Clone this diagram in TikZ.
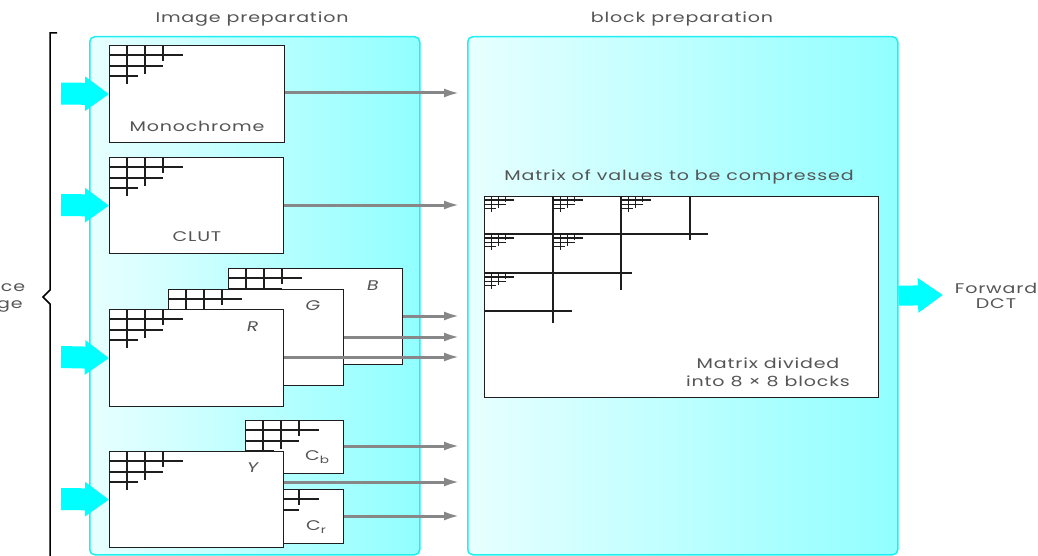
\documentclass[tikz,border=0pt]{standalone}
\usepackage{fontspec}
\setmainfont{Poppins}[FakeStretch=1.36,LetterSpace=6]
\newfontfamily\slfont{Poppins}[FakeStretch=1.36,LetterSpace=6,FakeSlant=0.2]
\usetikzlibrary{arrows.meta}
\definecolor{panelL}{RGB}{232,255,255}
\definecolor{panelR}{RGB}{145,255,255}
\definecolor{panelB}{RGB}{30,240,240}
\definecolor{inarrow}{RGB}{0,255,255}
\definecolor{txt}{RGB}{85,85,85}
\definecolor{outgray}{RGB}{135,135,135}
\definecolor{boxline}{RGB}{30,30,30}
\tikzset{
  panel/.style={draw=panelB, line width=1.5pt, rounded corners=5pt,
    left color=panelL, right color=panelR, anchor=north west, inner sep=0pt},
  imgbox/.style={draw=boxline, line width=1.2pt, fill=white, anchor=north west, inner sep=0pt},
  gline/.style={draw=boxline, line width=1.1pt},
  mline/.style={draw=boxline, line width=1.8pt},
  lbl/.style={text=txt, font=\fontsize{14}{17}\selectfont, inner sep=0pt},
  outarr/.style={draw=outgray, line width=3pt, -{Latex[length=16pt,width=9pt]}},
  inarr/.style={draw=inarrow, line width=22pt, -{Triangle[length=24pt,width=33pt]}},
  pics/cgrid/.style={code={
    \draw[gline] (18,0)--(18,39) (36,0)--(36,29) (54,0)--(54,16)
                 (0,10)--(74,10) (0,21)--(54,21) (0,31)--(29,31);
  }},
}
\begin{document}
\begin{tikzpicture}[x=1pt,y=-1pt]
\clip (0,0) rectangle (1038,556);
\fill[white] (0,0) rectangle (1038,556);

% panels
\node[panel, minimum width=330pt, minimum height=518pt] (imgprep) at (89,36) {};
\node[panel, minimum width=430pt, minimum height=518pt] (blockprep) at (467,36) {};
\node[lbl] (t1) at (252,19) {Image preparation};
\node[lbl] (t2) at (682,19) {block preparation};

% source brace
\draw[line width=1.5pt, draw=black] (57,33) -- (50,33) -- (50,290) -- (43,297) -- (50,304) -- (50,560);
\node[lbl, align=center] (src) at (-10,297) {Source\\image};

% Monochrome
\node[imgbox, minimum width=175pt, minimum height=97pt] (mono) at (109,45) {};
\pic at (109,45) {cgrid};
\node[lbl] (monol) at (197,126) {Monochrome};

% CLUT
\node[imgbox, minimum width=174pt, minimum height=96pt] (clut) at (109,157) {};
\pic at (109,157) {cgrid};
\node[lbl] (clutl) at (197,237) {CLUT};

% RGB
\node[imgbox, minimum width=174pt, minimum height=96pt] (B) at (228,268) {};
\pic at (228,268) {cgrid};
\node[lbl, font=\fontsize{14}{17}\slfont] (Bl) at (372,286) {B};
\node[imgbox, minimum width=175pt, minimum height=96pt] (G) at (168,289) {};
\pic at (168,289) {cgrid};
\node[lbl, font=\fontsize{14}{17}\slfont] (Gl) at (312,306) {G};
\node[imgbox, minimum width=174pt, minimum height=97pt] (R) at (109,309) {};
\pic at (109,309) {cgrid};
\node[lbl, font=\fontsize{14}{17}\slfont] (Rl) at (252,327) {R};

% YCbCr
\node[imgbox, minimum width=98pt, minimum height=53pt] (Cb) at (245,420) {};
\pic at (245,420) {cgrid};
\node[lbl] (Cbl) at (317,457) {C\raisebox{-0.35ex}{\fontsize{10}{12}\selectfont b}};
\node[imgbox, minimum width=98pt, minimum height=54pt] (Cr) at (245,489) {};
\pic at (245,489) {cgrid};
\node[lbl] (Crl) at (316,527) {C\raisebox{-0.35ex}{\fontsize{10}{12}\selectfont r}};
\node[imgbox, minimum width=174pt, minimum height=96pt] (Y) at (109,451) {};
\pic at (109,451) {cgrid};
\node[lbl, font=\fontsize{14}{17}\slfont] (Yl) at (252,468) {Y};

% output arrow end points
\coordinate (eMono) at (460,93);
\coordinate (eClut) at (460,205);
\coordinate (eB) at (460,316);
\coordinate (eG) at (460,337);
\coordinate (eR) at (460,357);
\coordinate (eCb) at (460,446);
\coordinate (eY) at (460,482);
\coordinate (eCr) at (460,516);
\draw[outarr] (mono.east |- eMono) -- (eMono);
\draw[outarr] (clut.east |- eClut) -- (eClut);
\draw[outarr] (B.east |- eB) -- (eB);
\draw[outarr] (G.east |- eG) -- (eG);
\draw[outarr] (R.east |- eR) -- (eR);
\draw[outarr] (Cb.east |- eCb) -- (eCb);
\draw[outarr] (Y.east |- eY) -- (eY);
\draw[outarr] (Cr.east |- eCr) -- (eCr);

% input arrows
\coordinate (sMono) at (61,93.5);
\coordinate (sClut) at (61,205);
\coordinate (sR) at (61,357);
\coordinate (sY) at (61,499);
\draw[inarr] (sMono) -- (mono.west);
\draw[inarr] (sClut) -- (clut.west);
\draw[inarr] (sR) -- (R.west);
\draw[inarr] (sY) -- (Y.west);

% matrix
\node[lbl] (mtxt) at (679,177) {Matrix of values to be compressed};
\node[imgbox, minimum width=394pt, minimum height=201pt] (mtx) at (484,196) {};
\draw[mline] (553,196)--(553,323) (621,196)--(621,290) (690,196)--(690,240);
\draw[gline, line width=1.4pt] (484,234)--(708,234) (484,273)--(632,273) (484,311)--(572,311);
\foreach \p in {(484,196),(553,196),(621,196),(484,234),(553,234),(484,273)}
  \pic[scale=0.4, gline/.append style={line width=1.4pt}] at \p {cgrid};
\node[lbl, align=center, font=\fontsize{14}{18}\selectfont] (mtxl) at (768,372) {Matrix divided\\into 8 × 8 blocks};

% DCT
\coordinate (dcttip) at (943,295);
\draw[draw=inarrow, line width=20pt, -{Triangle[length=25pt,width=33pt]}] (blockprep.east) -- (dcttip);
\node[lbl, align=center, font=\fontsize{14}{15}\selectfont] (dct) at (996,296) {Forward\\DCT};
\end{tikzpicture}
\end{document}
